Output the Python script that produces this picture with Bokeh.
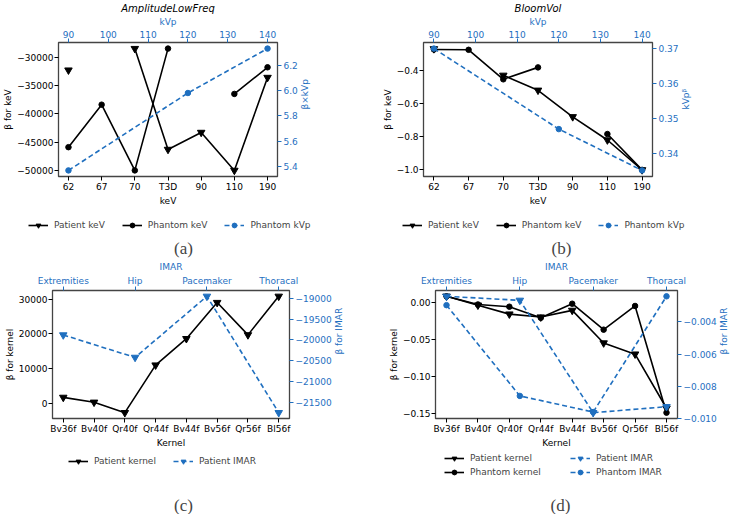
import math
from bokeh.plotting import figure
from bokeh.models import Range1d, LinearAxis, FixedTicker, Legend, LegendItem, Label
from bokeh.layouts import column, row
from bokeh.embed import file_html
from bokeh.resources import INLINE

nan = float("nan")
BLUE = "#1f6fbf"
FONT = "DejaVu Sans"

# ---------------- data ----------------
# (a) AmplitudeLowFreq
kev_labels = ["62", "67", "70", "T3D", "90", "110", "190"]
kvp_values = [90, 120, 140]
kvp_ticks = [90, 100, 110, 120, 130, 140]
a_patient_kev = [-32300, nan, -28500, -46300, -43300, -50000, -33600]
a_phantom_kev = [-45900, -38400, -50000, -28500, nan, -36500, -31800]
a_phantom_kvp = [5.37, 5.98, 6.33]
a_left_ticks = [-50000, -45000, -40000, -35000, -30000]
a_right_ticks = [5.4, 5.6, 5.8, 6.0, 6.2]

# (b) BloomVol
b_patient_kev = [-0.27, nan, -0.43, -0.52, -0.68, -0.82, -1.0]
b_phantom_kev = [-0.274, -0.276, -0.454, -0.382, nan, -0.784, -1.0]
b_phantom_kvp = [0.370, 0.347, 0.3352]
b_left_ticks = [-1.0, -0.8, -0.6, -0.4]
b_right_ticks = [0.34, 0.35, 0.36, 0.37]

# (c) kernel / IMAR (patient)
kernel_labels = ["Bv36f", "Bv40f", "Qr40f", "Qr44f", "Bv44f", "Bv56f", "Qr56f", "Bl56f"]
imar_labels = ["Extremities", "Hip", "Pacemaker", "Thoracal"]
c_patient_kernel = [1700, 300, -2700, 11000, 18600, 29000, 19700, 30800]
c_patient_imar = [-19880, -20420, -18950, -21750]
c_left_ticks = [0, 10000, 20000, 30000]
c_right_ticks = [-21500, -21000, -20500, -20000, -19500, -19000]

# (d) kernel / IMAR (patient + phantom)
d_patient_kernel = [0.008, -0.004, -0.016, -0.020, -0.011, -0.055, -0.070, -0.143]
d_phantom_kernel = [0.008, -0.003, -0.006, -0.021, -0.002, -0.037, -0.005, -0.149]
d_patient_imar = [-0.00242, -0.00267, -0.00964, -0.00927]
d_phantom_imar = [-0.00297, -0.0086, -0.0096, -0.00242]
d_left_ticks = [-0.15, -0.10, -0.05, 0.00]
d_right_ticks = [-0.010, -0.008, -0.006, -0.004]

# series styles: (label, colour, marker, dash)
S_PAT_KEV = ("Patient keV", "black", "inverted_triangle", "solid")
S_PHA_KEV = ("Phantom keV", "black", "circle", "solid")
S_PHA_KVP = ("Phantom kVp", BLUE, "circle", "5 3")
S_PAT_KER = ("Patient kernel", "black", "inverted_triangle", "solid")
S_PHA_KER = ("Phantom kernel", "black", "circle", "solid")
S_PAT_IMAR = ("Patient IMAR", BLUE, "inverted_triangle", "5 3")
S_PHA_IMAR = ("Phantom IMAR", BLUE, "circle", "5 3")


def fmt(v, nd):
    return f"{v:.{nd}f}".replace("-", "\u2212")


def pad(lo, hi, frac=0.05):
    d = (hi - lo) * frac
    return lo - d, hi + d


def finite(vals):
    return [v for v in vals if not (isinstance(v, float) and math.isnan(v))]


def style_axis(ax, color, ticks, labels, title, right=False):
    ax.ticker = FixedTicker(ticks=ticks)
    ax.major_label_overrides = dict(zip(ticks, labels))
    ax.axis_line_color = None
    ax.major_tick_line_color = color
    ax.major_tick_line_width = 1
    ax.major_tick_out = 4
    ax.major_tick_in = 0
    ax.minor_tick_line_color = None
    ax.major_label_text_color = color
    ax.major_label_text_font = FONT
    ax.major_label_text_font_size = "9px"
    ax.major_label_standoff = 2 if right else 1
    ax.axis_label = title
    ax.axis_label_text_color = color
    ax.axis_label_text_font = FONT
    ax.axis_label_text_font_size = "9px"
    ax.axis_label_text_font_style = "normal"
    ax.axis_label_standoff = 4 if right else 1
    if right and "axis_label_orientation" in ax.properties():
        ax.axis_label_orientation = math.pi / 2


def make_fig(width, height, n_bottom, ylo, yhi, rlo, rhi, tlo, thi, borders, title=None):
    xlo, xhi = pad(0, n_bottom - 1)
    p = figure(width=width, height=height, output_backend="svg", toolbar_location=None,
               x_range=Range1d(xlo, xhi), y_range=Range1d(ylo, yhi),
               min_border_left=borders[0], min_border_right=borders[1],
               min_border_top=borders[2], min_border_bottom=borders[3],
               frame_align=False)
    p.extra_y_ranges = {"r": Range1d(rlo, rhi)}
    p.extra_x_ranges = {"t": Range1d(tlo, thi)}
    p.xgrid.visible = False
    p.ygrid.visible = False
    p.outline_line_color = "#444444"
    p.outline_line_width = 1.3
    p.background_fill_color = "white"
    p.border_fill_color = "white"
    if title:
        p.title.text = title
        p.title.align = "center"
        p.title.text_font = FONT
        p.title.text_font_style = "italic"
        p.title.text_font_size = "10px"
        p.title.text_color = "black"
        p.title.standoff = 0
    return p


def add_series(p, xs, ys, style, yname="default", xname="default"):
    _, color, marker, dash = style
    kw = {}
    if yname != "default":
        kw["y_range_name"] = yname
    if xname != "default":
        kw["x_range_name"] = xname
    ln = p.line(xs, ys, line_color=color, line_width=1.6, line_dash=dash, **kw)
    sc = p.scatter(xs, ys, marker=marker, size=5.5 if marker == "circle" else 7.5,
                   fill_color=color, line_color=color, **kw)
    return [ln, sc]


def legend_fig(width, height):
    q = figure(width=width, height=height, output_backend="svg", toolbar_location=None,
               x_range=Range1d(0, width), y_range=Range1d(0, height),
               x_axis_type=None, y_axis_type=None, min_border=0,
               min_border_left=0, min_border_right=0, min_border_top=0, min_border_bottom=0,
               frame_align=False)
    q.xgrid.visible = False
    q.ygrid.visible = False
    q.outline_line_color = None
    q.background_fill_color = "white"
    q.border_fill_color = "white"
    return q


def add_legend(q, styles, loc, orientation="horizontal"):
    items = []
    for st in styles:
        rs = add_series(q, [nan], [nan], st)   # legend swatch only (no visible mark)
        items.append(LegendItem(label=st[0], renderers=rs))
    lg = Legend(items=items, location=loc, orientation=orientation,
                spacing=17 if orientation == "horizontal" else 2,
                glyph_width=20, glyph_height=12, label_standoff=6, padding=0, margin=0,
                border_line_color=None, background_fill_alpha=0,
                label_text_font=FONT, label_text_font_size="9px", label_height=12)
    q.add_layout(lg)


def add_caption(q, text, x, y):
    q.add_layout(Label(x=x, y=y, x_units="screen", y_units="screen", text=text,
                       text_font="Liberation Serif", text_font_size="17px",
                       text_align="center", text_baseline="middle"))


kx = list(range(len(kev_labels)))
kernx = list(range(len(kernel_labels)))
imarx = list(range(len(imar_labels)))

W_L, W_R = 369, 367
TOP_H, TOP_LEG = 208, 50
BOT_H, BOT_LEG = 192, 64

# ---------------- (a) ----------------
a_y = pad(min(finite(a_patient_kev + a_phantom_kev)), max(finite(a_patient_kev + a_phantom_kev)))
a_r = pad(min(a_phantom_kvp), max(a_phantom_kvp))
a_t = pad(min(kvp_values), max(kvp_values))
pa = make_fig(W_L, TOP_H, len(kev_labels), a_y[0], a_y[1], a_r[0], a_r[1], a_t[0], a_t[1],
              (54, 92, 42, 31), title="AmplitudeLowFreq")
style_axis(pa.xaxis[0], "black", kx, kev_labels, "keV")
style_axis(pa.yaxis[0], "black", a_left_ticks, [fmt(v, 0) for v in a_left_ticks], "\u03b2 for keV")
ra = LinearAxis(y_range_name="r")
style_axis(ra, BLUE, a_right_ticks, [fmt(v, 1) for v in a_right_ticks], "\u03b2\u00d7kVp", right=True)
pa.add_layout(ra, "right")
ta = LinearAxis(x_range_name="t")
style_axis(ta, BLUE, kvp_ticks, [str(v) for v in kvp_ticks], "kVp")
pa.add_layout(ta, "above")
add_series(pa, kx, a_patient_kev, S_PAT_KEV)
add_series(pa, kx, a_phantom_kev, S_PHA_KEV)
add_series(pa, kvp_values, a_phantom_kvp, S_PHA_KVP, yname="r", xname="t")
la = legend_fig(W_L, TOP_LEG)
add_legend(la, [S_PAT_KEV, S_PHA_KEV, S_PHA_KVP], (28, 27))
add_caption(la, "(a)", 183, 10)

# ---------------- (b) ----------------
b_y = (-1.04, -0.232)
b_r = pad(min(b_phantom_kvp), max(b_phantom_kvp))
pb = make_fig(W_R, TOP_H, len(kev_labels), b_y[0], b_y[1], b_r[0], b_r[1], a_t[0], a_t[1],
              (54, 84, 42, 31), title="BloomVol")
style_axis(pb.xaxis[0], "black", kx, kev_labels, "keV")
style_axis(pb.yaxis[0], "black", b_left_ticks, [fmt(v, 1) for v in b_left_ticks], "\u03b2 for keV")
rb = LinearAxis(y_range_name="r")
style_axis(rb, BLUE, b_right_ticks, [fmt(v, 2) for v in b_right_ticks], "kVp\u1d5d", right=True)
pb.add_layout(rb, "right")
tb = LinearAxis(x_range_name="t")
style_axis(tb, BLUE, kvp_ticks, [str(v) for v in kvp_ticks], "kVp")
pb.add_layout(tb, "above")
add_series(pb, kx, b_patient_kev, S_PAT_KEV)
add_series(pb, kx, b_phantom_kev, S_PHA_KEV)
add_series(pb, kvp_values, b_phantom_kvp, S_PHA_KVP, yname="r", xname="t")
lb = legend_fig(W_R, TOP_LEG)
add_legend(lb, [S_PAT_KEV, S_PHA_KEV, S_PHA_KVP], (33, 27))
add_caption(lb, "(b)", 192, 10)

# ---------------- (c) ----------------
c_y = pad(min(c_patient_kernel), max(c_patient_kernel))
c_r = pad(min(c_patient_imar), max(c_patient_imar))
c_t = pad(0, len(imar_labels) - 1)
pc = make_fig(W_L, BOT_H, len(kernel_labels), c_y[0], c_y[1], c_r[0], c_r[1], c_t[0], c_t[1],
              (52, 80, 29, 31))
style_axis(pc.xaxis[0], "black", kernx, kernel_labels, "Kernel")
style_axis(pc.yaxis[0], "black", c_left_ticks, [fmt(v, 0) for v in c_left_ticks], "\u03b2 for kernel")
rc = LinearAxis(y_range_name="r")
style_axis(rc, BLUE, c_right_ticks, [fmt(v, 0) for v in c_right_ticks], "\u03b2 for IMAR", right=True)
pc.add_layout(rc, "right")
tc = LinearAxis(x_range_name="t")
style_axis(tc, BLUE, imarx, imar_labels, "IMAR")
pc.add_layout(tc, "above")
add_series(pc, kernx, c_patient_kernel, S_PAT_KER)
add_series(pc, imarx, c_patient_imar, S_PAT_IMAR, yname="r", xname="t")
lc = legend_fig(W_L, BOT_LEG)
add_legend(lc, [S_PAT_KER, S_PAT_IMAR], (68, 47))
add_caption(lc, "(c)", 183, 9)

# ---------------- (d) ----------------
d_all = d_patient_kernel + d_phantom_kernel
d_im = d_patient_imar + d_phantom_imar
d_y = pad(min(d_all), max(d_all))
d_r = pad(min(d_im), max(d_im))
pd_ = make_fig(W_R, BOT_H, len(kernel_labels), d_y[0], d_y[1], d_r[0], d_r[1], c_t[0], c_t[1],
               (66, 57, 29, 31))
style_axis(pd_.xaxis[0], "black", kernx, kernel_labels, "Kernel")
style_axis(pd_.yaxis[0], "black", d_left_ticks, [fmt(v, 2) for v in d_left_ticks], "\u03b2 for kernel")
rd = LinearAxis(y_range_name="r")
style_axis(rd, BLUE, d_right_ticks, [fmt(v, 3) for v in d_right_ticks], "\u03b2 for IMAR", right=True)
pd_.add_layout(rd, "right")
td = LinearAxis(x_range_name="t")
style_axis(td, BLUE, imarx, imar_labels, "IMAR")
pd_.add_layout(td, "above")
add_series(pd_, kernx, d_patient_kernel, S_PAT_KER)
add_series(pd_, kernx, d_phantom_kernel, S_PHA_KER)
add_series(pd_, imarx, d_patient_imar, S_PAT_IMAR, yname="r", xname="t")
add_series(pd_, imarx, d_phantom_imar, S_PHA_IMAR, yname="r", xname="t")
ld = legend_fig(W_R, BOT_LEG)
add_legend(ld, [S_PAT_KER, S_PHA_KER], (75, 36), "vertical")
add_legend(ld, [S_PAT_IMAR, S_PHA_IMAR], (201, 36), "vertical")
add_caption(ld, "(d)", 191, 9)

layout = column(row(column(pa, la), column(pb, lb)),
                row(column(pc, lc), column(pd_, ld)))
open("out.html", "w").write(file_html(layout, INLINE))
